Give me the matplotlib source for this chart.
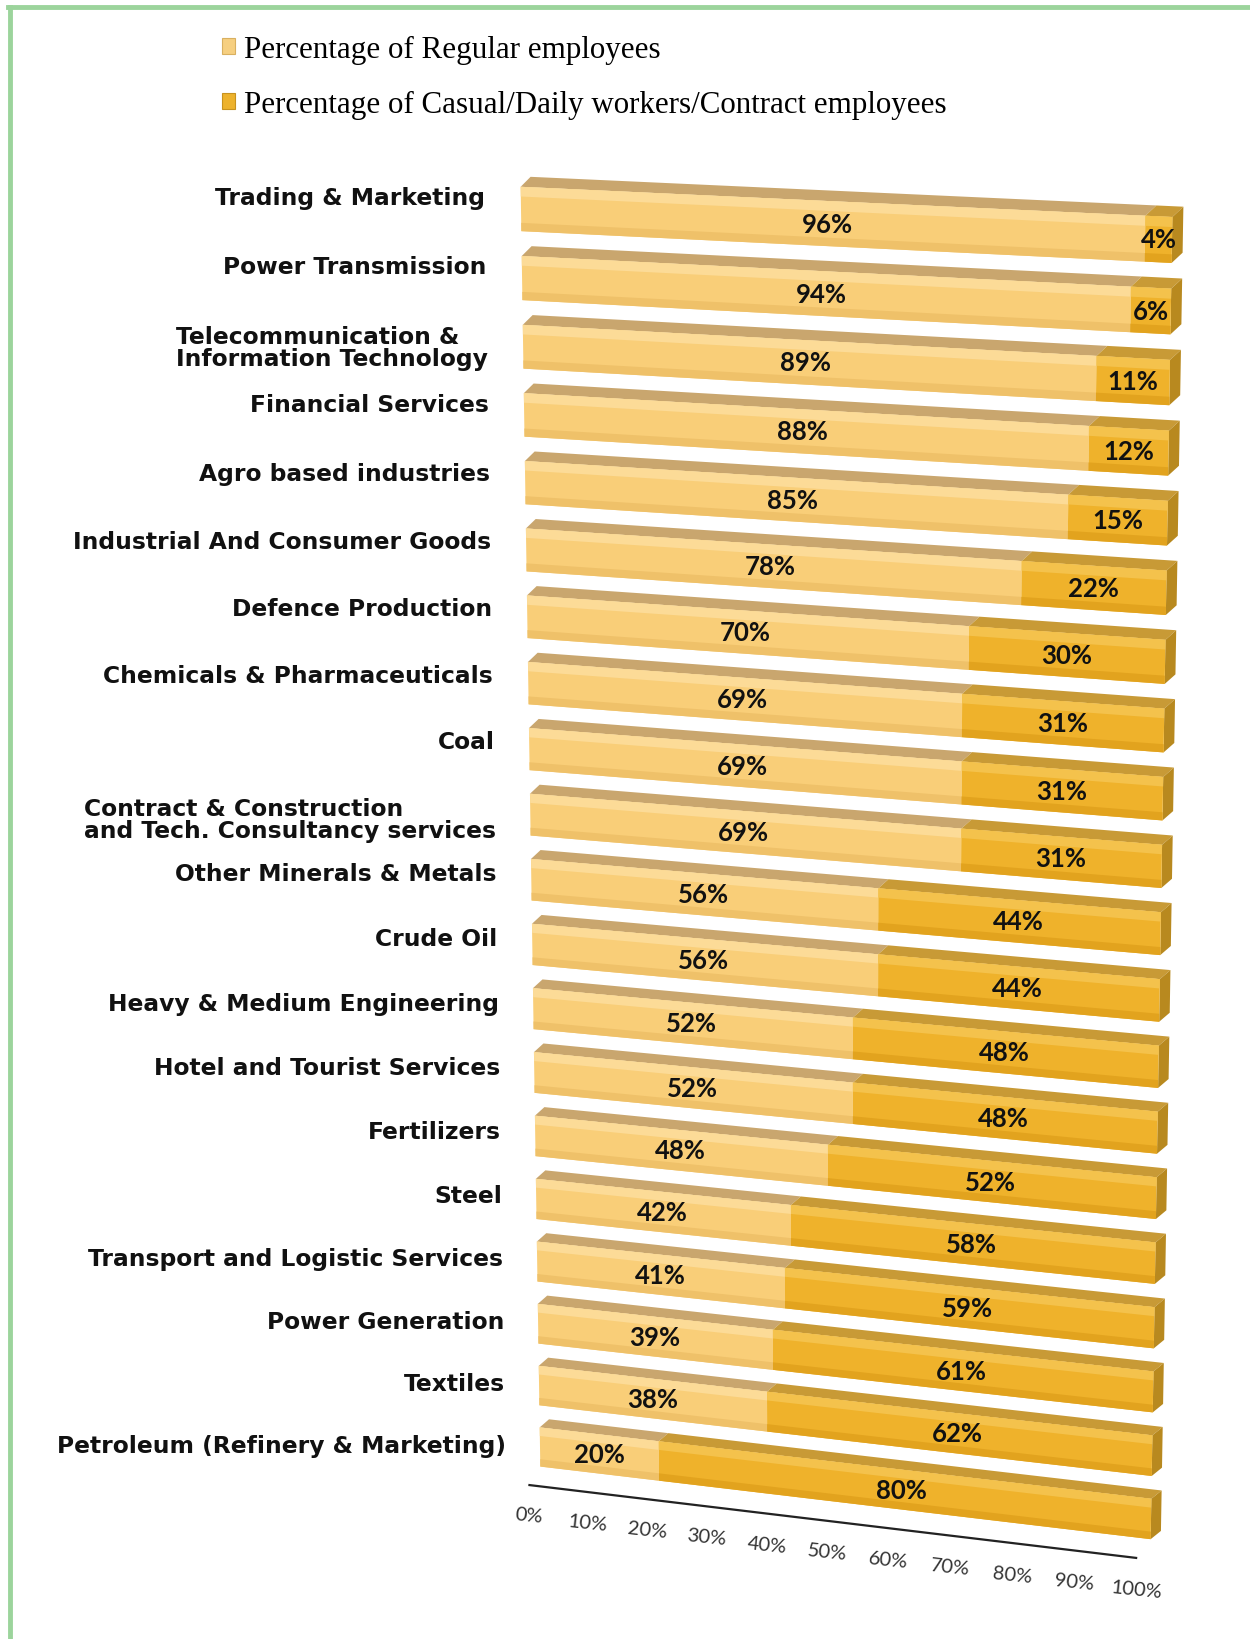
import numpy as np
import matplotlib
matplotlib.use("Agg")
import matplotlib.pyplot as plt
import matplotlib.transforms as mtransforms
from matplotlib.patches import Polygon, Patch
from matplotlib.lines import Line2D

# ---------------- data ----------------
categories = [
    "Trading & Marketing",
    "Power Transmission",
    "Telecommunication &\nInformation Technology",
    "Financial Services",
    "Agro based industries",
    "Industrial And Consumer Goods",
    "Defence Production",
    "Chemicals & Pharmaceuticals",
    "Coal",
    "Contract & Construction\nand Tech. Consultancy services",
    "Other Minerals & Metals",
    "Crude Oil",
    "Heavy & Medium Engineering",
    "Hotel and Tourist Services",
    "Fertilizers",
    "Steel",
    "Transport and Logistic Services",
    "Power Generation",
    "Textiles",
    "Petroleum (Refinery & Marketing)",
]
regular = [96, 94, 89, 88, 85, 78, 70, 69, 69, 69, 56, 56, 52, 52, 48, 42, 41, 39, 38, 20]
casual = [4, 6, 11, 12, 15, 22, 30, 31, 31, 31, 44, 44, 48, 48, 52, 58, 59, 61, 62, 80]
x_ticks = [0, 10, 20, 30, 40, 50, 60, 70, 80, 90, 100]
x_tick_labels = ["0%", "10%", "20%", "30%", "40%", "50%", "60%", "70%", "80%", "90%", "100%"]
series_names = ["Percentage of Regular employees",
                "Percentage of Casual/Daily workers/Contract employees"]

# ---------------- styling / layout ----------------
W, H = 1250, 1640
REG_FRONT, REG_HI, REG_LO, REG_TOP = "#F9CE78", "#FCDB97", "#EFC169", "#C9A66E"
CAS_FRONT, CAS_HI, CAS_LO, CAS_TOP, CAS_END = "#EFB22B", "#F4C24C", "#E2A31E", "#C89A36", "#B8891F"
HH = 0.32            # half height of the bar front face (row units)
DX, DY = 1.6, -0.15  # oblique depth direction (domain units)


def homography(src, dst):
    A, b = [], []
    for (x, y), (u, v) in zip(src, dst):
        A.append([x, y, 1, 0, 0, 0, -u * x, -u * y]); b.append(u)
        A.append([0, 0, 0, x, y, 1, -v * x, -v * y]); b.append(v)
    h = np.linalg.solve(np.array(A, float), np.array(b, float))
    return np.append(h, 1.0).reshape(3, 3)


n = len(categories)
HMAT = homography([(0, 0), (100, 0), (0, n - 1), (100, n - 1)],
                  [(521, 210), (1172, 241), (540, 1448), (1151, 1520)])


class Persp(mtransforms.Transform):
    input_dims = output_dims = 2
    is_separable = False
    has_inverse = False

    def __init__(self, Hm, z=0.0):
        super().__init__()
        self.Hm = Hm
        self.z = z

    def transform_non_affine(self, values):
        v = np.asarray(values, float)
        one = v.ndim == 1
        v = np.atleast_2d(v)
        x = v[:, 0] + DX * self.z
        y = v[:, 1] + DY * self.z
        p = np.column_stack([x, y, np.ones(len(v))]) @ self.Hm.T
        out = p[:, :2] / p[:, 2:3]
        return out[0] if one else out


fig = plt.figure(figsize=(W / 100, H / 100), dpi=100)
ax = fig.add_axes([0, 0, 1, 1])
ax.set_autoscale_on(False)
ax.set_xlim(0, W)
ax.set_ylim(H, 0)
ax.axis("off")

proj = Persp(HMAT) + ax.transData
proj_axis = Persp(HMAT, z=-1.3) + ax.transData
# category labels: anchor at top of a single text line (moved up by half a line)
proj_lab = proj + mtransforms.ScaledTranslation(0, 0.091, fig.dpi_scale_trans)

rows = np.arange(n)
reg = np.array(regular, float)
cas = np.array(casual, float)

# front faces
ax.barh(rows, reg, left=0, height=2 * HH, color=REG_FRONT, linewidth=0, transform=proj, zorder=3)
ax.barh(rows, cas, left=reg, height=2 * HH, color=CAS_FRONT, linewidth=0, transform=proj, zorder=3)
# highlight / shade bands
ax.barh(rows - HH + 0.07, reg, left=0, height=0.14, color=REG_HI, linewidth=0, transform=proj, zorder=3.1)
ax.barh(rows - HH + 0.07, cas, left=reg, height=0.14, color=CAS_HI, linewidth=0, transform=proj, zorder=3.1)
ax.barh(rows + HH - 0.06, reg, left=0, height=0.12, color=REG_LO, linewidth=0, transform=proj, zorder=3.1)
ax.barh(rows + HH - 0.06, cas, left=reg, height=0.12, color=CAS_LO, linewidth=0, transform=proj, zorder=3.1)


def face(pts):
    return [(x + DX * z, y + DY * z) for x, y, z in pts]


for r in rows:
    yt = r - HH
    yb = r + HH
    x0, x1, x2 = 0.0, reg[r], reg[r] + cas[r]
    # top faces
    ax.add_patch(Polygon(face([(x0, yt, 0), (x1, yt, 0), (x1, yt, 1), (x0, yt, 1)]),
                         closed=True, facecolor=REG_TOP, edgecolor="none", transform=proj, zorder=2))
    ax.add_patch(Polygon(face([(x1, yt, 0), (x2, yt, 0), (x2, yt, 1), (x1, yt, 1)]),
                         closed=True, facecolor=CAS_TOP, edgecolor="none", transform=proj, zorder=2))
    # end face
    ax.add_patch(Polygon(face([(x2, yt, 0), (x2, yb, 0), (x2, yb, 1), (x2, yt, 1)]),
                         closed=True, facecolor=CAS_END, edgecolor="none", transform=proj, zorder=2))
    # value labels
    ax.text(reg[r] / 2, r, f"{regular[r]}%", transform=proj, ha="center", va="center",
            fontsize=18.5, fontweight="bold", family="Lato", color="#111111", zorder=5)
    ax.text(reg[r] + cas[r] / 2, r, f"{casual[r]}%", transform=proj, ha="center", va="center",
            fontsize=18.5, fontweight="bold", family="Lato", color="#111111", zorder=5)
    # category labels (top anchored so that 2-line labels hang downward)
    ax.text(-5.7, r - 0.18 * (1 - r / (n - 1)), categories[r], transform=proj_lab,
            ha="right", va="top", multialignment="left", linespacing=0.97,
            fontsize=16.8, fontweight="bold", family="DejaVu Sans", color="#111111")

# value axis
axis_y = n - 1 + 0.45
ax.plot([x_ticks[0], x_ticks[-1]], [axis_y, axis_y], color="#222222", lw=1.6,
        transform=proj_axis, solid_capstyle="butt")
for t, lab in zip(x_ticks, x_tick_labels):
    ax.text(t, axis_y + 0.5, lab, transform=proj_axis, ha="center", va="center",
            rotation=-6, rotation_mode="anchor", fontsize=14.5, family="Lato", color="#333333")

# legend
handles = [Patch(facecolor="#F6CF80", edgecolor="#D9B060", lw=0.8),
           Patch(facecolor="#EDB22C", edgecolor="#C8921E", lw=0.8)]
fig.legend(handles, series_names, loc="upper left", bbox_to_anchor=(222 / W, 1 - 36 / H),
           frameon=False, prop={"family": "Liberation Serif", "size": 22.3},
           handlelength=0.42, handleheight=0.42, handletextpad=0.3, labelspacing=0.83,
           borderaxespad=0, borderpad=0)

# green frame
fig.add_artist(Line2D([8 / W, 1], [1 - 8 / H, 1 - 8 / H], color="#9CD49C", lw=3.5,
                      transform=fig.transFigure))
fig.add_artist(Line2D([10 / W, 10 / W], [1 - 8 / H, 0], color="#9CD49C", lw=3.5,
                      transform=fig.transFigure))

fig.savefig("out.png", dpi=100, facecolor="white")
